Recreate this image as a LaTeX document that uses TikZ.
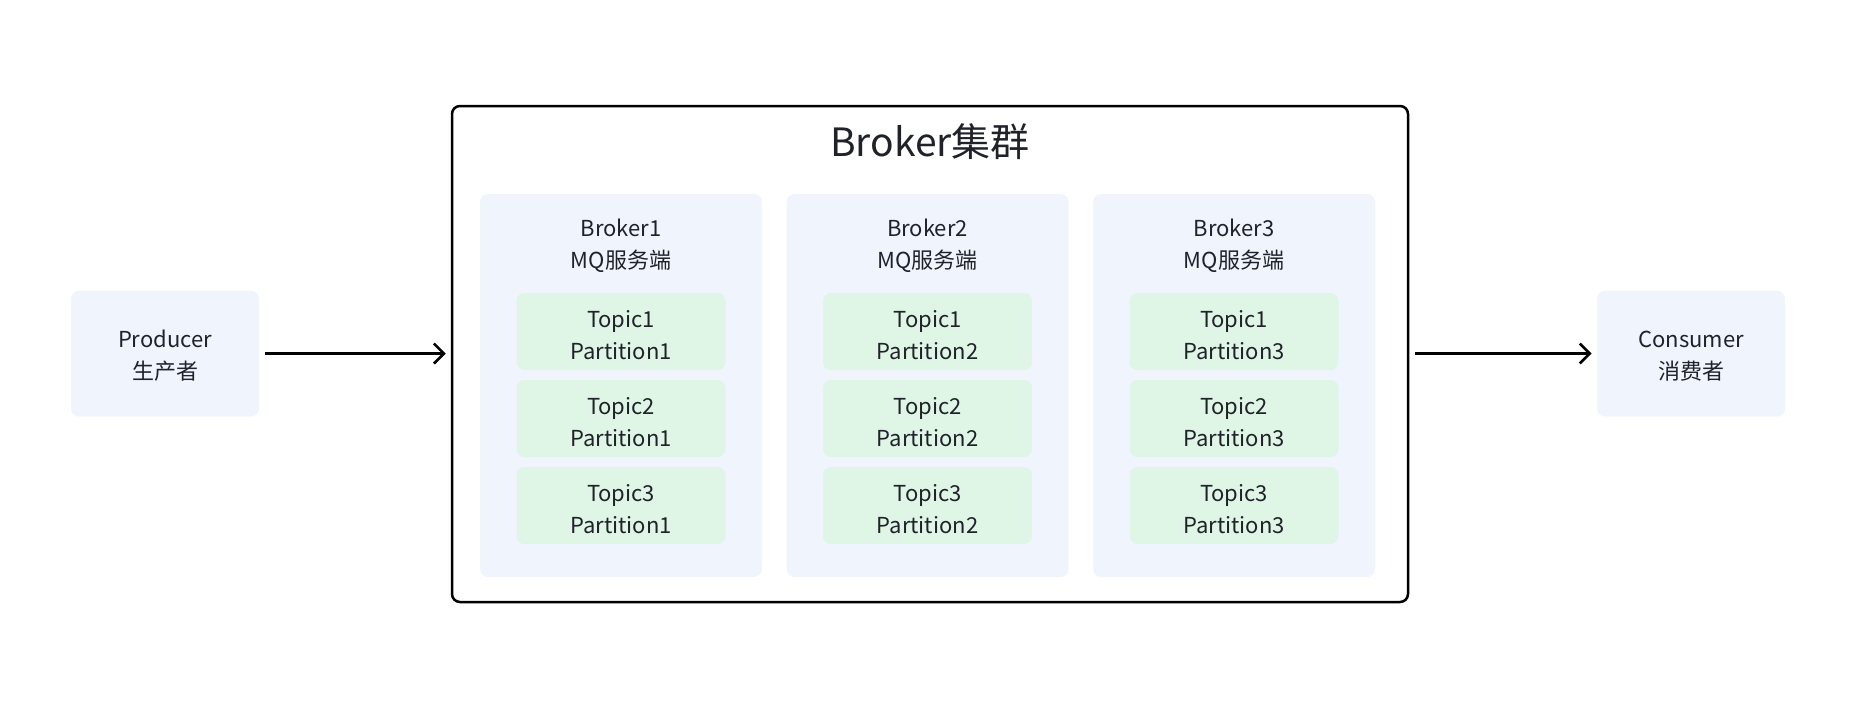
\documentclass[tikz,border=0pt]{standalone}
\usepackage{fontspec}
\setmainfont{Noto Sans CJK SC}
\usetikzlibrary{arrows.meta}
\definecolor{panelblue}{HTML}{F0F4FD}
\definecolor{topicgreen}{HTML}{DFF5E6}
\definecolor{textdark}{HTML}{1F2329}
\begin{document}
\begin{tikzpicture}[x=0.5pt,y=-0.5pt,
    every node/.style={align=center,text=textdark,font=\fontsize{11}{16}\selectfont},
    textdrop/.style={execute at begin node={\rule{0pt}{#1}}},
    client/.style={fill=panelblue,rounded corners=4pt,minimum width=94pt,minimum height=63pt,textdrop=27pt},
    brokerbox/.style={fill=panelblue,rounded corners=4pt,minimum width=141pt,minimum height=191.5pt},
    topicbox/.style={fill=topicgreen,rounded corners=4pt,minimum width=104.5pt,minimum height=38.5pt,textdrop=28.6pt},
    flow/.style={-{Straight Barb[length=5pt,width=10pt,line width=1.3pt]},line width=1.3pt,black,shorten <=3pt,shorten >=2.5pt}]
    \useasboundingbox (0,0) rectangle (1862,714);

    \node[client] (prod) at (165, 353.5) {Producer\\生产者};
    \node[client] (cons) at (1691, 353.5) {Consumer\\消费者};

    \node[draw=black,line width=1.25pt,rounded corners=4pt,minimum width=478pt,minimum height=248pt] (cluster) at (930, 354) {};
    \node[font=\fontsize{19.5}{24}\selectfont] (title) at (930, 142) {Broker集群};

    \foreach \i/\x in {1/621, 2/927.5, 3/1234} {
      \node[brokerbox] (broker\i) at (\x, 385.5) {};
      \node (label\i) at (\x, 246) {Broker\i\\MQ服务端};
      \node[topicbox] (t1p\i) at (\x, 331.5) {Topic1\\Partition\i};
      \node[topicbox] (t2p\i) at (\x, 418.5) {Topic2\\Partition\i};
      \node[topicbox] (t3p\i) at (\x, 505.5) {Topic3\\Partition\i};
    }

    \path (prod.east) edge[flow] (prod.east -| cluster.west);
    \path (prod.east -| cluster.east) edge[flow] (cons.west);
  \end{tikzpicture}
\end{document}
